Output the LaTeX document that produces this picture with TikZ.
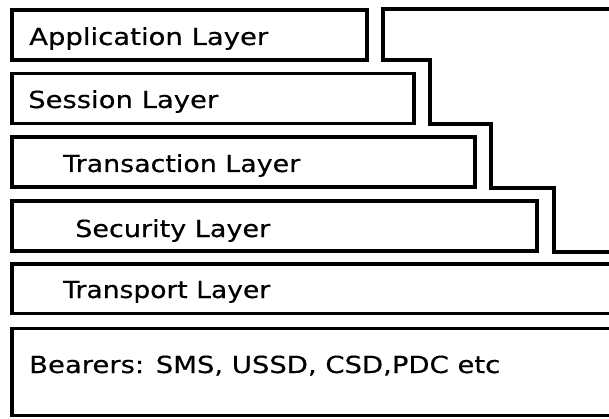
\documentclass[tikz,border=0pt]{standalone}
\usepackage{fontspec}
\setmainfont{DejaVu Sans}
\newfontfamily\lblfont{DejaVu Sans}[FakeBold=0.4]
\usepackage{graphicx}
\tikzset{
  box/.style={draw=black, line width=3.2pt},
  lbl/.style={anchor=base west, inner sep=0pt, font=\lblfont\fontsize{23.5}{27}\selectfont}
}
\newcommand\fitw[2]{\resizebox{#1}{\height}{#2}}
\begin{document}
\begin{tikzpicture}[x=1pt, y=-1pt]
\useasboundingbox[fill=white] (0,0) rectangle (609,419);
% closed boxes
\draw[box] (12,10) rectangle (367,60);
\draw[box] (12,73.5) rectangle (414,123.5);
\draw[box] (12,137) rectangle (475,187);
\draw[box] (12,201) rectangle (537,251);
% open boxes running off the right edge
\draw[box] (625,264) -- (12,264) -- (12,313.5) -- (625,313.5);
\draw[box] (625,328.5) -- (12,328.5) -- (12,415.5) -- (625,415.5);
% staircase outline
\draw[box] (625,9) -- (383,9) -- (383,60) -- (430,60) -- (430,124) -- (491,124)
  -- (491,188) -- (554,188) -- (554,252) -- (625,252);
% labels
\node[lbl] (app) at (29,45) {\fitw{239pt}{Application Layer}};
\node[lbl] (ses) at (28,108) {\fitw{190pt}{Session Layer}};
\node[lbl] (tra) at (63,172) {\fitw{237pt}{Transaction Layer}};
\node[lbl] (sec) at (75,237) {\fitw{195pt}{Security Layer}};
\node[lbl] (trp) at (63,298) {\fitw{207pt}{Transport Layer}};
\node[lbl] (bea) at (29,373) {\fitw{471pt}{Bearers: SMS, USSD, CSD,PDC etc}};
\end{tikzpicture}
\end{document}
